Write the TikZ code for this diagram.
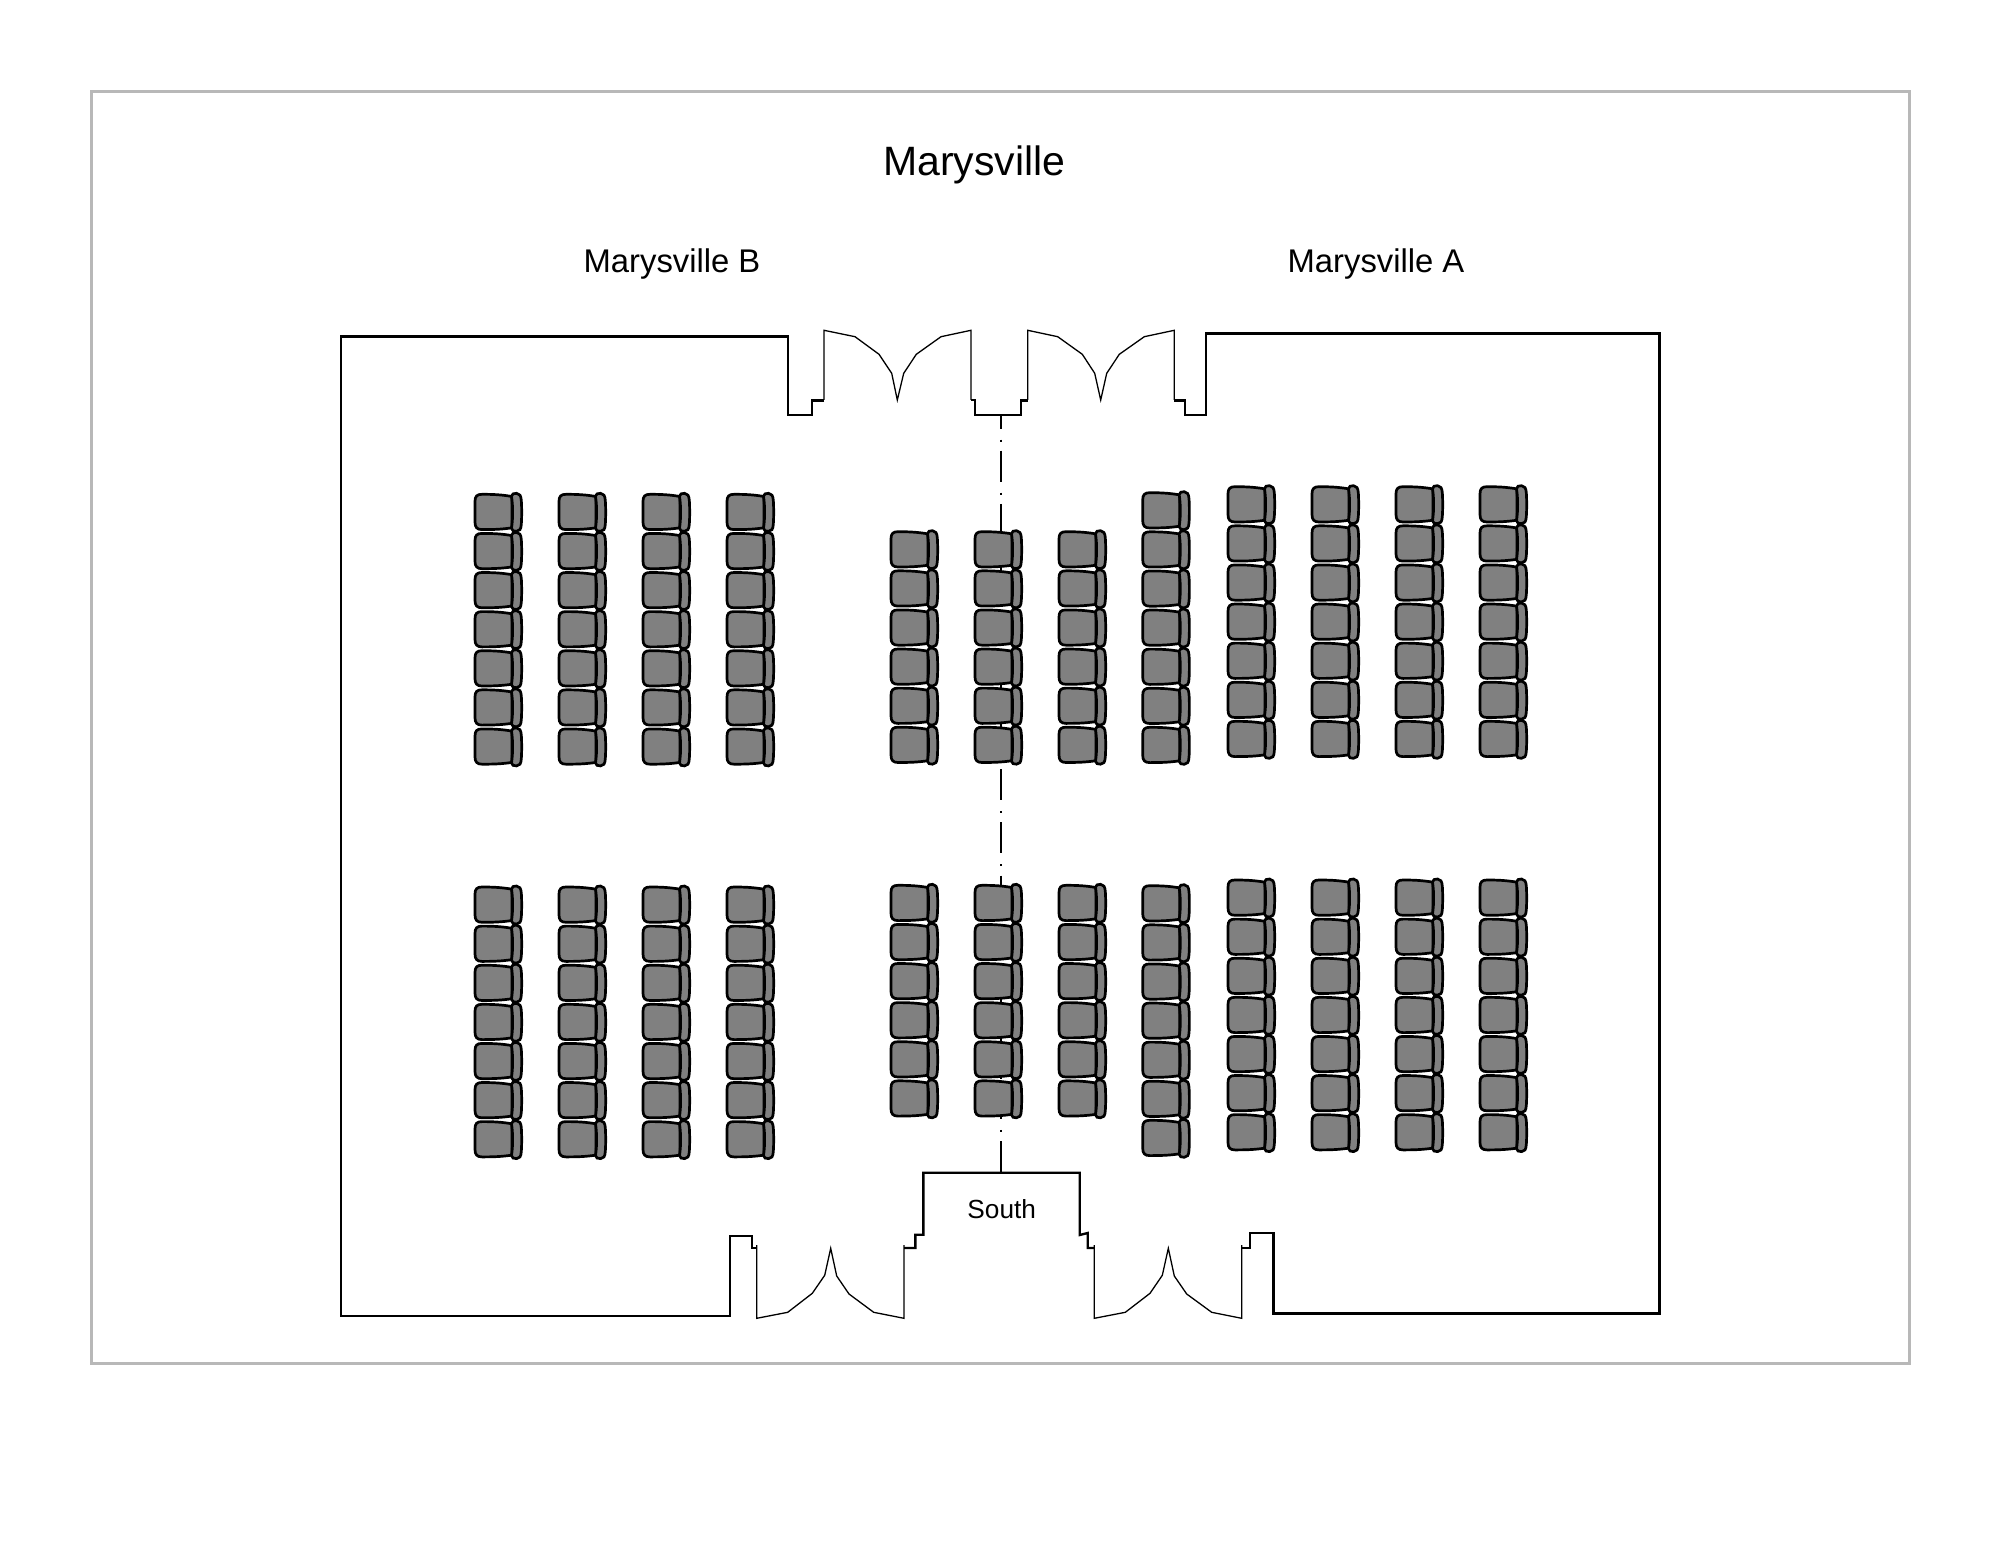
\documentclass[tikz,border=0pt]{standalone}
\usepackage{fontspec}
\setmainfont{Liberation Sans}
\definecolor{seat}{gray}{0.5}

\begin{document}
\begin{tikzpicture}[
                x=0.5pt,
                y=-0.5pt,
                wall/.style = {
                    line width = 1.2pt,
                    line join = miter
                },
                door/.style = {
                    line width = 0.65pt
                },
                frame/.style = {
                    draw = black!28,
                    line width = 1.25pt
                },
                axis/.style = {
                    line width = 0.95pt,
                    dash pattern = on 15.5pt off 5.5pt on 1pt off 4.55pt,
                    dash phase = 8.7pt
                },
                label/.style = {
                    anchor = base,
                    inner sep = 0pt,
                    font = \fontsize{#1}{#1}\selectfont
                },
                chair/.pic = {
                    \draw[line width = 1.35pt, fill = seat]
                        (38,3.2) .. controls (28,1.5) and (20,1) .. (8,1)
                        .. controls (3,1) and (1,3) .. (1,8)
                        -- (1,29) .. controls (1,34) and (3,36.3) .. (8,36.3)
                        .. controls (20,36.3) and (28,36) .. (38,34.5) -- cycle;
                    \draw[line width = 1.35pt, fill = seat]
                        (37.5,3) .. controls (37.5,0.5) and (40,0) .. (42.5,0)
                        .. controls (45.5,0) and (47,2.5) .. (47.3,7)
                        .. controls (47.8,14) and (47.8,24) .. (47.3,31)
                        .. controls (47,36) and (45.5,38) .. (42.5,38)
                        .. controls (40,38) and (37.5,37.5) .. (37.5,35)
                        .. controls (39,25) and (39,13) .. (37.5,3) -- cycle;
                }
            ]
            \useasboundingbox (0,0) rectangle (2000,1545);
            \draw[frame] (91.3,91.3) rectangle (1909.3,1363.5);
            %
            \node[label=20.5pt] (title) at (974.5,176) {Marysville};
            \node[label=16.4pt] (roomb) at (672,273) {Marysville B};
            \node[label=16.4pt] (rooma) at (1376,273) {Marysville A};
            \node[label=13.1pt] (south) at (1001.7,1218) {South};
            %
            \draw[axis] (1001.3,415) -- (1001.3,1172.7);
            %
            % walls
            \draw[wall] (824,400.7) -- (811.7,400.7) -- (811.7,415) -- (788,415) -- (788,336.5)
                -- (341,336.5) -- (341,1316) -- (729.7,1316) -- (729.7,1235.7) -- (751.7,1235.7)
                -- (751.7,1248) -- (756.7,1248);
            \draw[wall] (971,400) -- (975,400) -- (975,415) -- (1021,415) -- (1021,400.7) -- (1027.7,400.7);
            \draw[wall] (1174.3,400.7) -- (1185,400.7) -- (1185,415) -- (1206,415) -- (1206,333.5)
                -- (1659.5,333.5) -- (1659.5,1313.5) -- (1273.3,1313.5) -- (1273.3,1233) -- (1250,1233)
                -- (1250,1248) -- (1241.7,1248);
            \draw[wall] (904,1248) -- (915.3,1248) -- (915.3,1234.7) -- (923.3,1234.7) -- (923.3,1172.7)
                -- (1079.7,1172.7) -- (1079.7,1235) -- (1087.7,1233) -- (1087.7,1248) -- (1094.3,1248);
            %
            % doors
            \draw[door] (824,400) -- (824,330.3) -- (855,336.7) -- (879,354.3) -- (891.7,373.3) -- (897.3,400)
                -- (903.7,373.3) -- (916.3,354.3) -- (941,336.7) -- (971,330.3) -- (971,400);
            \draw[door] (1027.7,400) -- (1027.7,330.3) -- (1057.7,336.7) -- (1082.3,354.3) -- (1094.7,373.3) -- (1100.7,400)
                -- (1106.7,373.3) -- (1119.3,354.3) -- (1144.3,336.7) -- (1174.3,330.3) -- (1174.3,400);
            \draw[door] (756.7,1245) -- (756.7,1318.3) -- (787.7,1312.3) -- (812.3,1293.3) -- (824.7,1275.3) -- (830.7,1248.3)
                -- (836.7,1276) -- (849,1294) -- (873.7,1312.3) -- (904,1318.3) -- (904,1245);
            \draw[door] (1094.3,1245) -- (1094.3,1318.3) -- (1125.3,1312.3) -- (1150,1293.3) -- (1162.3,1275.3) -- (1168.3,1248.3)
                -- (1174.3,1276) -- (1186.7,1294) -- (1211.7,1312.3) -- (1241.7,1318.3) -- (1241.7,1245);
            %
            % chairs
            \foreach \colx/\coly/\rows in {
                    474/493.3/7, 558/493.3/7, 642/493.3/7, 726/493.3/7,
                    474/886/7, 558/886/7, 642/886/7, 726/886/7,
                    890/530.7/6, 974/530.7/6, 1058/530.7/6,
                    890/884.3/6, 974/884.3/6, 1058/884.3/6,
                    1141.7/491.7/7, 1141.7/884.7/7,
                    1227/485.7/7, 1311/485.7/7, 1395/485.7/7, 1479/485.7/7,
                    1227/879/7, 1311/879/7, 1395/879/7, 1479/879/7} {
                \foreach \i in {1,...,\rows} {
                    \pic at (\colx,{\coly+(\i-1)*39.1}) {chair};
                }
            }
        \end{tikzpicture}
\end{document}
